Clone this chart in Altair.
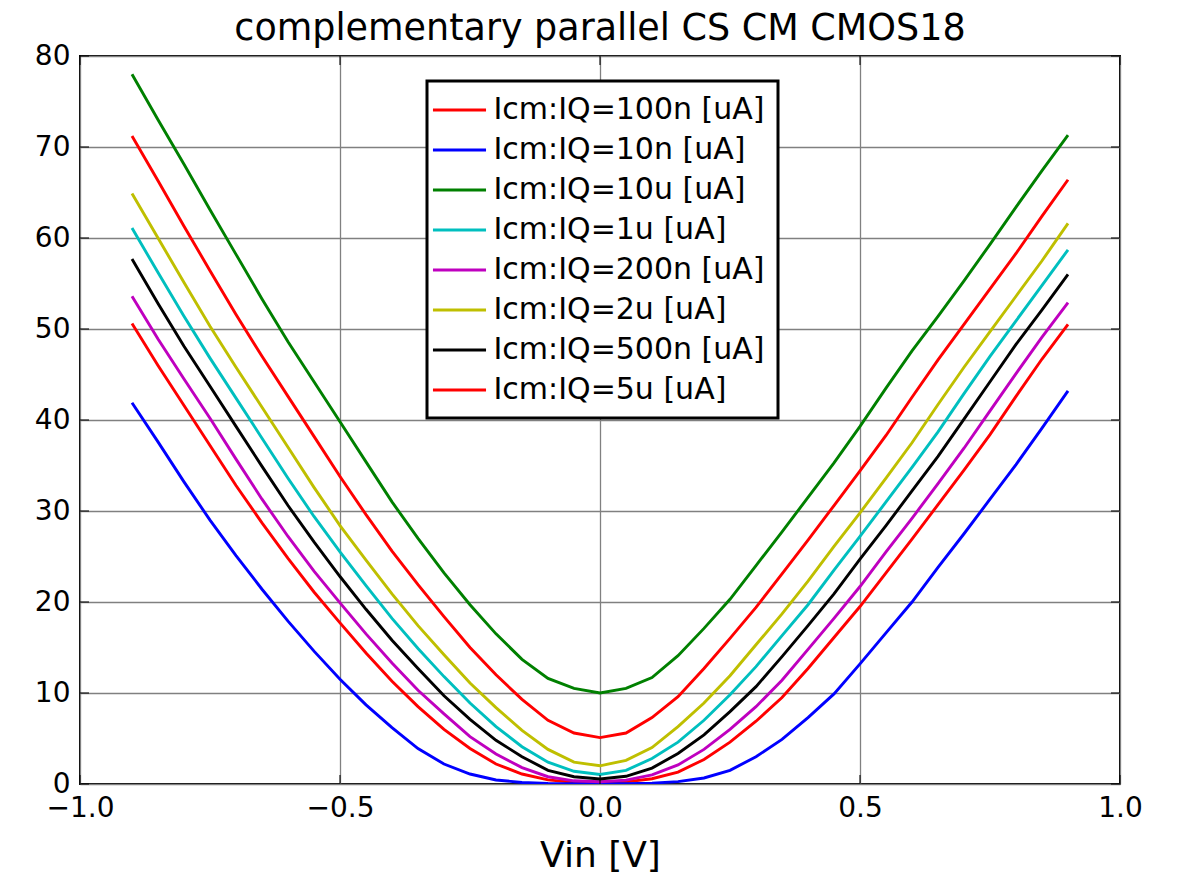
import altair as alt
import pandas as pd

vin = [-0.9, -0.85, -0.8, -0.75, -0.7, -0.65, -0.6, -0.55, -0.5, -0.45, -0.4, -0.35,
       -0.3, -0.25, -0.2, -0.15, -0.1, -0.05, 0.0, 0.05, 0.1, 0.15, 0.2, 0.25, 0.3,
       0.35, 0.4, 0.45, 0.5, 0.55, 0.6, 0.65, 0.7, 0.75, 0.8, 0.85, 0.9]

iq10u = [78.0, 73.0, 68.1, 63.1, 58.2, 53.3, 48.6, 44.2, 39.8, 35.4, 31.0, 27.0, 23.2, 19.7, 16.5, 13.7, 11.6, 10.5,
         10.0,
         10.5, 11.7, 14.1, 17.1, 20.3, 24.0, 27.7, 31.5, 35.3, 39.3, 43.5, 47.6, 51.4, 55.3, 59.3, 63.4, 67.4, 71.3]
iq5u = [71.2, 66.3, 61.3, 56.4, 51.6, 47.0, 42.6, 38.2, 33.8, 29.6, 25.6, 21.9, 18.4, 15.0, 12.0, 9.3, 7.0, 5.6,
        5.1,
        5.6, 7.3, 9.6, 12.7, 16.0, 19.4, 23.1, 26.8, 30.6, 34.4, 38.3, 42.5, 46.6, 50.5, 54.4, 58.3, 62.4, 66.4]
iq2u = [64.9, 60.0, 55.1, 50.3, 45.8, 41.4, 37.0, 32.6, 28.4, 24.6, 20.9, 17.4, 14.2, 11.1, 8.4, 5.9, 3.8, 2.4,
        2.0,
        2.6, 4.0, 6.3, 8.9, 11.9, 15.3, 18.7, 22.3, 26.1, 29.8, 33.6, 37.5, 41.7, 45.8, 49.7, 53.6, 57.5, 61.6]
iq1u = [61.1, 56.2, 51.4, 46.8, 42.4, 38.0, 33.6, 29.4, 25.5, 21.8, 18.2, 14.9, 11.8, 8.9, 6.3, 4.1, 2.4, 1.4,
        1.05,
        1.5, 2.8, 4.6, 7.0, 9.8, 12.9, 16.3, 19.7, 23.5, 27.2, 31.0, 34.8, 38.7, 42.9, 47.0, 50.9, 54.8, 58.7]
iq500n = [57.7, 52.8, 48.1, 43.7, 39.3, 34.9, 30.6, 26.6, 22.8, 19.2, 15.8, 12.7, 9.7, 7.1, 4.8, 3.0, 1.5, 0.8,
          0.55,
          0.85, 1.75, 3.35, 5.4, 7.95, 10.7, 14.0, 17.4, 20.9, 24.7, 28.4, 32.2, 36.0, 40.1, 44.2, 48.3, 52.1, 56.0]
iq200n = [53.6, 48.9, 44.5, 40.2, 35.7, 31.3, 27.2, 23.4, 19.9, 16.5, 13.3, 10.3, 7.7, 5.2, 3.3, 1.8, 0.8, 0.35,
          0.24,
          0.42, 1.0, 2.1, 3.8, 6.0, 8.5, 11.4, 14.8, 18.2, 21.7, 25.5, 29.2, 33.0, 36.9, 41.0, 45.1, 49.1, 52.9]
iq100n = [50.6, 46.0, 41.6, 37.2, 32.8, 28.7, 24.8, 21.1, 17.7, 14.4, 11.3, 8.5, 6.0, 3.9, 2.2, 1.1, 0.45, 0.18,
          0.12,
          0.24, 0.58, 1.3, 2.7, 4.6, 6.9, 9.5, 12.7, 16.1, 19.5, 23.2, 26.9, 30.7, 34.5, 38.4, 42.6, 46.7, 50.5]
iq10n = [41.9, 37.6, 33.2, 29.0, 25.1, 21.4, 17.9, 14.6, 11.5, 8.7, 6.2, 3.9, 2.2, 1.1, 0.44, 0.17, 0.06, 0.02,
         0.02,
         0.04, 0.1, 0.26, 0.66, 1.5, 3.0, 4.9, 7.3, 9.9, 13.2, 16.6, 20.0, 23.8, 27.5, 31.3, 35.1, 39.1, 43.2]

labels = ["Icm:IQ=100n [uA]", "Icm:IQ=10n [uA]", "Icm:IQ=10u [uA]", "Icm:IQ=1u [uA]",
          "Icm:IQ=200n [uA]", "Icm:IQ=2u [uA]", "Icm:IQ=500n [uA]", "Icm:IQ=5u [uA]"]
colors = ["#ff0000", "#0000ff", "#008000", "#00bfbf", "#bf00bf", "#bfbf00", "#000000", "#ff0000"]
series = [iq100n, iq10n, iq10u, iq1u, iq200n, iq2u, iq500n, iq5u]

x_ticks = [-1.0, -0.5, 0.0, 0.5, 1.0]
y_ticks = [0, 10, 20, 30, 40, 50, 60, 70, 80]

rows = []
for k, (lab, vals) in enumerate(zip(labels, series)):
    for v, i in zip(vin, vals):
        rows.append({"series": lab, "vin": v, "i": i, "k": k})
df = pd.DataFrame(rows)

W, H = 1040, 728
FONT = "DejaVu Sans"

xscale = alt.Scale(domain=[-1, 1], nice=False)
yscale = alt.Scale(domain=[0, 80], nice=False)

lines = alt.Chart(df).mark_line(strokeWidth=2.9, clip=True).encode(
    x=alt.X("vin:Q", scale=xscale,
            axis=alt.Axis(values=x_ticks, format=".1f", labelFlush=False,
                          labelExpr="replace(datum.label, '-', '\u2212')",
                          title="Vin [V]", ticks=False, domain=False,
                          labelPadding=10, titlePadding=16)),
    y=alt.Y("i:Q", scale=yscale,
            axis=alt.Axis(values=y_ticks, title=None, ticks=False, domain=False,
                          labelPadding=10, minExtent=60, maxExtent=60)),
    color=alt.Color("series:N", scale=alt.Scale(domain=labels, range=colors),
                    legend=alt.Legend(title=None, orient="none", legendX=347, legendY=25,
                                      symbolType="M-1.83,0H1.83", symbolSize=841,
                                      symbolStrokeWidth=3, symbolOffset=3.5,
                                      labelFontSize=30, labelFont=FONT, labelColor="black",
                                      labelLimit=0, labelOffset=18, rowPadding=9, padding=13,
                                      fillColor="white", strokeColor="black")),
    detail="k:O",
)

ytick_df = pd.DataFrame({"t": y_ticks})
xtick_df = pd.DataFrame({"t": x_ticks})

yt_left = alt.Chart(ytick_df).mark_tick(orient="horizontal", size=9, thickness=1.5, color="black").encode(
    y=alt.Y("t:Q", scale=yscale), x=alt.value(4.5))
yt_right = alt.Chart(ytick_df).mark_tick(orient="horizontal", size=9, thickness=1.5, color="black").encode(
    y=alt.Y("t:Q", scale=yscale), x=alt.value(W - 4.5))
xt_bottom = alt.Chart(xtick_df).mark_tick(orient="vertical", size=9, thickness=1.5, color="black").encode(
    x=alt.X("t:Q", scale=xscale), y=alt.value(H - 4.5))
xt_top = alt.Chart(xtick_df).mark_tick(orient="vertical", size=9, thickness=1.5, color="black").encode(
    x=alt.X("t:Q", scale=xscale), y=alt.value(4.5))

chart = alt.layer(lines, yt_left, yt_right, xt_bottom, xt_top).properties(
    width=W, height=H,
    title=alt.TitleParams("complementary parallel CS CM CMOS18", fontSize=36.5, font=FONT,
                          fontWeight="normal", color="black", offset=-5, anchor="middle"),
    padding={"left": 12, "top": 2, "right": 20, "bottom": 2},
).configure_view(
    stroke="black", strokeWidth=2
).configure_axis(
    labelFont=FONT, labelFontSize=28, labelColor="black",
    titleFont=FONT, titleFontSize=36, titleFontWeight="normal", titleColor="black",
    grid=True, gridColor="#808080", gridWidth=1.3, gridOpacity=1
).configure_legend(
    strokeWidth=3
)

chart.save("out.html", embed_options={"renderer": "svg", "actions": False})
